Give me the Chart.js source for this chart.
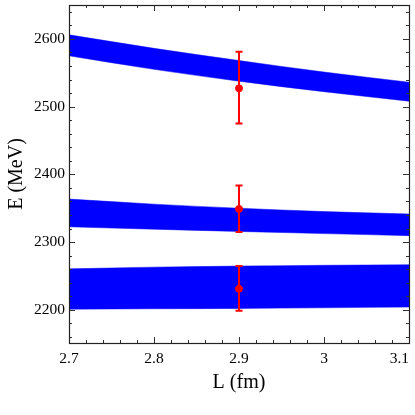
<!DOCTYPE html>
<html>
<head>
<meta charset="utf-8">
<script src="https://cdn.jsdelivr.net/npm/chart.js@4.4.1/dist/chart.umd.min.js"></script>
<style>
html,body{margin:0;padding:0;background:#fff;}
#wrap{width:415px;height:415px;}
</style>
</head>
<body>
<div id="wrap"><canvas id="c" width="415" height="415"></canvas></div>
<script>
// ---- data ----
const bandX = [2.7, 2.8, 2.9, 3.0, 3.1];
const band1Upper = [2606, 2586, 2568, 2551, 2536];
const band1Lower = [2575, 2555, 2537.5, 2522, 2508];
const band2Upper = [2363.5, 2356, 2350, 2345, 2341.5];
const band2Lower = [2322.5, 2319, 2315.7, 2312.5, 2309.5];
const band3Upper = [2260.5, 2263, 2264.5, 2265.7, 2266.5];
const band3Lower = [2201, 2201.5, 2202, 2203, 2204];

const pointX = [2.9, 2.9, 2.9];
const pointY = [2527, 2349, 2231];
const errLow = [2475, 2315, 2198.5];
const errHigh = [2581, 2383.5, 2264.5];

const xTicks = [2.7, 2.8, 2.9, 3.0, 3.1];
const xTickLabels = ['2.7', '2.8', '2.9', '3', '3.1'];
const yTicks = [2200, 2300, 2400, 2500, 2600];
const yTickLabels = ['2200', '2300', '2400', '2500', '2600'];

const BLUE = '#0000ff';
const RED = '#ff0000';
const FONT = "'Liberation Serif', 'Times New Roman', serif";

function pts(xs, ys) { return xs.map((x, i) => ({x: x, y: ys[i]})); }

function bandPair(up, lo) {
  return [
    {data: pts(bandX, up), borderColor: BLUE, borderWidth: 0.5, backgroundColor: BLUE,
     pointRadius: 0, fill: false, cubicInterpolationMode: 'monotone', order: 2},
    {data: pts(bandX, lo), borderColor: BLUE, borderWidth: 0.5, backgroundColor: BLUE,
     pointRadius: 0, fill: '-1', cubicInterpolationMode: 'monotone', order: 2}
  ];
}

const frameTicks = {
  id: 'frameTicks',
  afterDraw(chart) {
    const ctx = chart.ctx, a = chart.chartArea;
    const xs = chart.scales.x, ys = chart.scales.y;
    ctx.save();
    ctx.strokeStyle = '#333';
    ctx.lineWidth = 1;
    for (let i = 0; i <= 20; i++) {
      const v = 2.7 + i * 0.02;
      const px = Math.round(xs.getPixelForValue(v)) + 0.5;
      const major = i % 5 === 0;
      const len = major ? 6 : 3;
      ctx.beginPath();
      ctx.moveTo(px, a.bottom); ctx.lineTo(px, a.bottom - len);
      ctx.moveTo(px, a.top); ctx.lineTo(px, a.top + len);
      ctx.stroke();
    }
    for (let v = 2160; v <= 2640; v += 20) {
      const py = Math.round(ys.getPixelForValue(v)) + 0.5;
      const major = v % 100 === 0;
      const len = major ? 6 : 3;
      ctx.beginPath();
      ctx.moveTo(a.left, py); ctx.lineTo(a.left + len, py);
      ctx.moveTo(a.right, py); ctx.lineTo(a.right - len, py);
      ctx.stroke();
    }
    ctx.strokeStyle = '#222';
    ctx.lineWidth = 1.2;
    ctx.strokeRect(Math.round(a.left) + 0.5, Math.round(a.top) + 0.5,
                   Math.round(a.right - a.left), Math.round(a.bottom - a.top));
    ctx.restore();
  },
  afterDatasetsDraw(chart) {
    const ctx = chart.ctx;
    const xs = chart.scales.x, ys = chart.scales.y;
    ctx.save();
    ctx.strokeStyle = RED;
    ctx.lineWidth = 2;
    for (let i = 0; i < pointX.length; i++) {
      const px = xs.getPixelForValue(pointX[i]);
      const pl = ys.getPixelForValue(errLow[i]);
      const ph = ys.getPixelForValue(errHigh[i]);
      ctx.beginPath();
      ctx.moveTo(px, pl); ctx.lineTo(px, ph);
      ctx.moveTo(px - 3.5, pl); ctx.lineTo(px + 3.5, pl);
      ctx.moveTo(px - 3.5, ph); ctx.lineTo(px + 3.5, ph);
      ctx.stroke();
    }
    ctx.restore();
  }
};

const datasets = [
  ...bandPair(band1Upper, band1Lower),
  ...bandPair(band2Upper, band2Lower),
  ...bandPair(band3Upper, band3Lower),
  {type: 'scatter', data: pts(pointX, pointY), backgroundColor: RED, borderColor: RED,
   pointRadius: 3.5, pointHoverRadius: 3.5, showLine: false, order: 0}
];

new Chart(document.getElementById('c'), {
  type: 'line',
  data: {datasets: datasets},
  options: {
    responsive: false,
    animation: false,
    events: [],
    layout: {padding: {top: 5, right: 6, left: 0, bottom: 0}},
    plugins: {legend: {display: false}, tooltip: {enabled: false}},
    scales: {
      x: {
        type: 'linear', min: 2.7, max: 3.1,
        grid: {display: false, drawTicks: false},
        border: {display: false},
        afterBuildTicks(s) { s.ticks = xTicks.map(v => ({value: v})); },
        afterFit(s) { s.height = 72; s.paddingLeft = 0; s.paddingRight = 0; s.paddingTop = 0; s.paddingBottom = 0; },
        ticks: {
          padding: 7, color: '#000', maxRotation: 0, autoSkip: false,
          font: {family: FONT, size: 15.5},
          callback(v) {
            const i = xTicks.findIndex(t => Math.abs(t - v) < 1e-6);
            if (i < 0) return '';
            // last label is kept inside the canvas (shifted left as in the original)
            return i === xTicks.length - 1 ? xTickLabels[i] + '\u00a0\u00a0\u00a0\u00a0\u00a0' : xTickLabels[i];
          }
        },
        title: {display: true, text: 'L (fm)', color: '#000',
                font: {family: FONT, size: 20}, padding: {top: 4, bottom: 20}}
      },
      y: {
        type: 'linear', min: 2151, max: 2650,
        grid: {display: false, drawTicks: false},
        border: {display: false},
        afterBuildTicks(s) { s.ticks = yTicks.map(v => ({value: v})); },
        afterFit(s) { s.width = 69; s.paddingLeft = 0; s.paddingRight = 0; s.paddingTop = 0; s.paddingBottom = 0; },
        ticks: {
          padding: 4, color: '#000', autoSkip: false,
          font: {family: FONT, size: 15.5},
          callback(v) { const i = yTicks.indexOf(v); return i >= 0 ? yTickLabels[i] : ''; }
        },
        title: {display: true, text: 'E (MeV)', color: '#000',
                font: {family: FONT, size: 20}, padding: {top: 5, bottom: 0}}
      }
    }
  },
  plugins: [frameTicks]
});
</script>
</body>
</html>
